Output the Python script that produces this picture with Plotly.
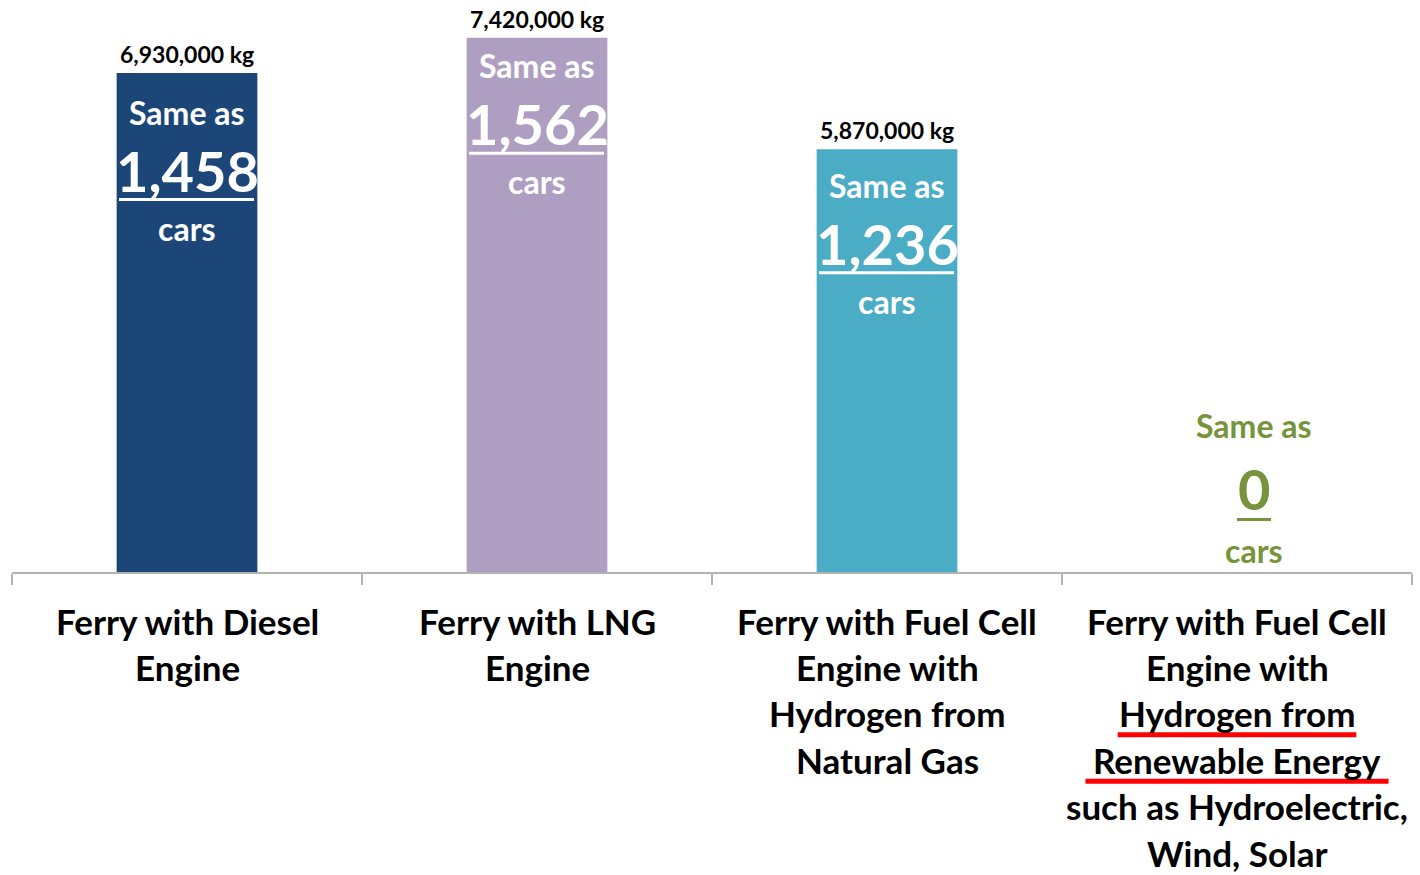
import plotly.graph_objects as go

# ---- data ----
category_lines = [
    ["Ferry with Diesel", "Engine"],
    ["Ferry with LNG", "Engine"],
    ["Ferry with Fuel Cell", "Engine with", "Hydrogen from", "Natural Gas"],
    ["Ferry with Fuel Cell", "Engine with", "Hydrogen from", "Renewable Energy",
     "such as Hydroelectric,", "Wind, Solar"],
]
emissions_kg = [6930000, 7420000, 5870000, 0]
cars_equiv = [1458, 1562, 1236, 0]
bar_colors = ["#1B4677", "#AE9FC2", "#4AACC5", "#77933C"]

FONT = "Lato"
x_idx = list(range(len(emissions_kg)))

fig = go.Figure(go.Bar(
    x=x_idx, y=emissions_kg, width=0.402,
    marker=dict(color=bar_colors, line=dict(width=0)),
    hoverinfo="skip",
))

annotations = []
shapes = []
top_offsets = [39, 28, 36]
for i, (v, c) in enumerate(zip(emissions_kg, cars_equiv)):
    if v > 0:
        annotations.append(dict(x=i, y=v, xref="x", yref="y", text=f"<b>{v:,} kg</b>",
                                showarrow=False, yanchor="middle", yshift=19,
                                font=dict(family=FONT, size=23, color="#000000")))
        off = top_offsets[i]
        col = "#FFFFFF"
        for txt, dy, size in [("Same as", off, 32), (f"{c:,}", off + 58, 56), ("cars", off + 116, 32)]:
            annotations.append(dict(x=i, y=v, xref="x", yref="y", text=f"<b>{txt}</b>",
                                    showarrow=False, yanchor="middle", yshift=-dy,
                                    font=dict(family=FONT, size=size, color=col)))
        shapes.append(dict(type="rect", xref="x", yref="y", xsizemode="pixel", ysizemode="pixel",
                           xanchor=i, yanchor=v, x0=-68, x1=67, y0=-(off + 86), y1=-(off + 89),
                           fillcolor=col, line=dict(width=0)))
    else:
        col = bar_colors[i]
        for txt, dy, size in [("Same as", 147, 32), (f"{c:,}", 84, 56), ("cars", 22, 32)]:
            annotations.append(dict(x=i, y=0, xref="x", yref="y", text=f"<b>{txt}</b>",
                                    showarrow=False, yanchor="middle", yshift=dy, xshift=17,
                                    font=dict(family=FONT, size=size, color=col)))
        shapes.append(dict(type="rect", xref="x", yref="y", xsizemode="pixel", ysizemode="pixel",
                           xanchor=i, yanchor=0, x0=0, x1=34, y0=51, y1=54,
                           fillcolor=col, line=dict(width=0)))

# category labels, line by line
BASE, STEP = 48.5, 46.4
for i, lines in enumerate(category_lines):
    for k, line in enumerate(lines):
        annotations.append(dict(x=i, y=0, xref="x", yref="paper", text=f"<b>{line}</b>",
                                showarrow=False, yanchor="middle", yshift=-(BASE + STEP * k),
                                font=dict(family=FONT, size=35, color="#000000")))

# red underlines on the renewable label
for k, half in [(2, 0.341), (3, 0.433)]:
    shapes.append(dict(type="rect", xref="x", yref="paper", ysizemode="pixel", yanchor=0,
                       x0=3 - half, x1=3 + half, y0=-(BASE + STEP * k + 19), y1=-(BASE + STEP * k + 24),
                       fillcolor="#FF0000", line=dict(width=0)))

fig.update_layout(
    width=1420, height=875,
    margin=dict(l=12, r=8, t=0, b=303),
    paper_bgcolor="white", plot_bgcolor="white",
    showlegend=False,
    xaxis=dict(range=[-0.5, 3.5], tickvals=[-0.5, 0.5, 1.5, 2.5, 3.5], ticktext=[""] * 5,
               ticks="outside", ticklen=11, tickcolor="#B3B3B3", tickwidth=2,
               showline=True, linecolor="#B3B3B3", linewidth=2, showgrid=False,
               zeroline=False, fixedrange=True),
    yaxis=dict(range=[0, 7944000], visible=False, showgrid=False, fixedrange=True),
    annotations=annotations,
    shapes=shapes,
)

fig.write_html("out.html", config={"displayModeBar": False},
               post_script="document.body.style.margin='0';document.body.style.overflow='hidden';")
